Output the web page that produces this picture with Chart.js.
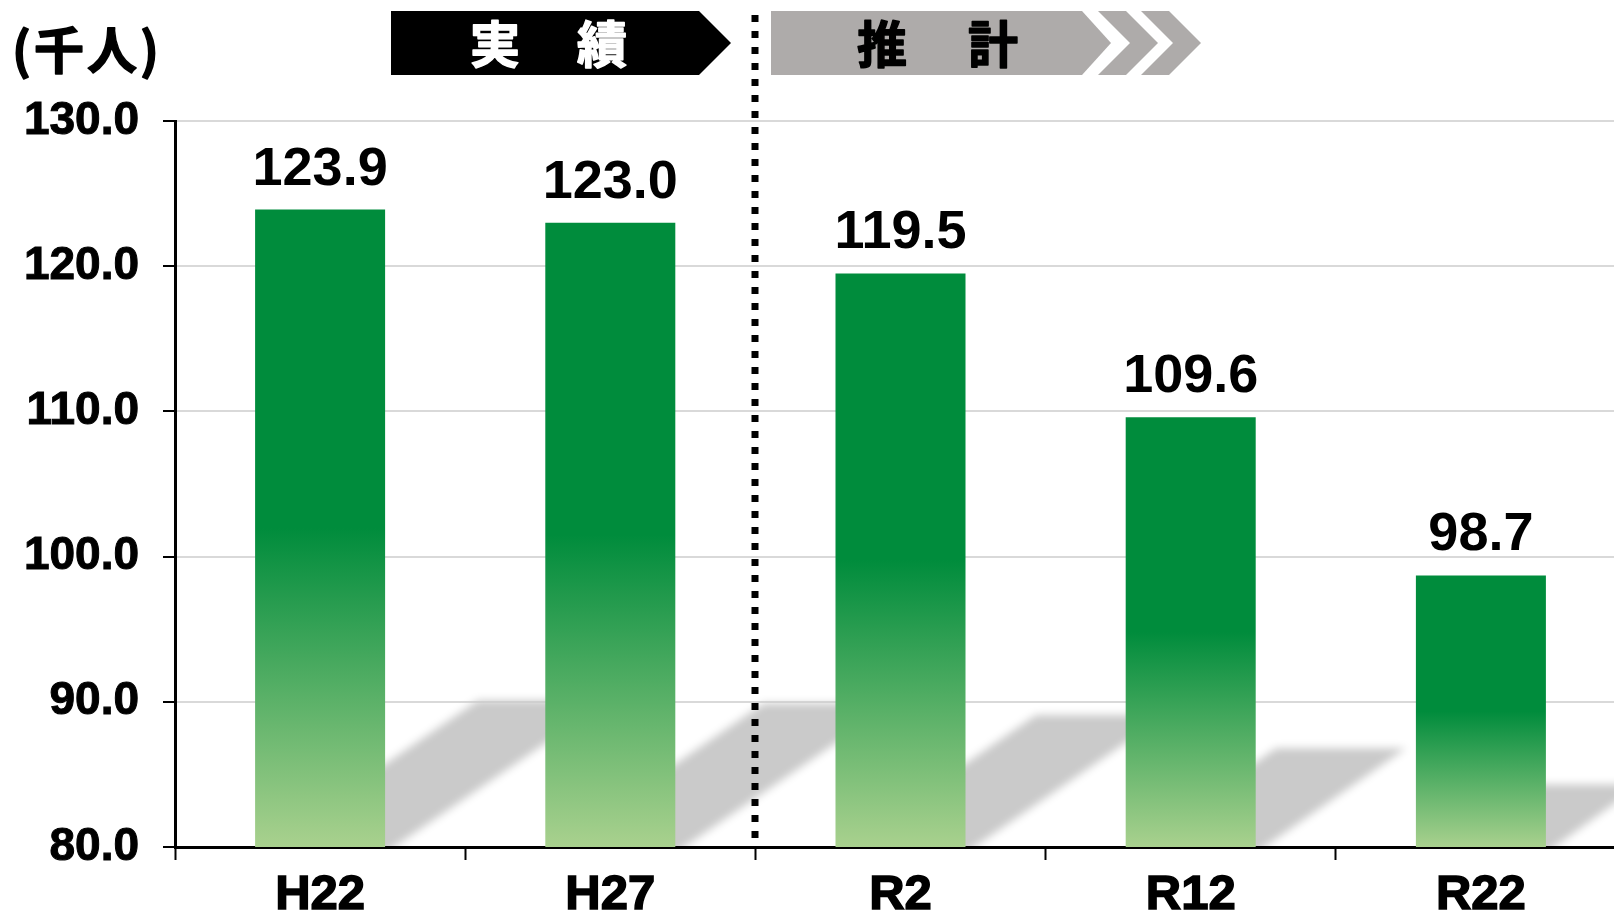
<!DOCTYPE html>
<html lang="ja">
<head>
<meta charset="utf-8">
<title>人口推移</title>
<script src="https://cdn.jsdelivr.net/npm/chart.js@4.4.1/dist/chart.umd.min.js"></script>
<style>
  html, body { margin: 0; padding: 0; background: #fff; overflow: hidden; }
  #wrap { width: 1640px; height: 922px; }
</style>
</head>
<body>
<div id="wrap"><canvas id="myChart" width="1640" height="922"></canvas></div>
<script>
const categories = ['H22', 'H27', 'R2', 'R12', 'R22'];
const population = [123.9, 123.0, 119.5, 109.6, 98.7];
const yTicks = [80, 90, 100, 110, 120, 130];
const unitLabel = '(千人)';
const actualLabel = ['実', '績'];
const estimateLabel = ['推', '計'];

const dark = '#008c3c';
const light = '#a9d18e';

function barFill(c) {
  const chart = c.chart;
  if (!chart.chartArea || c.type !== 'data') return dark;
  const y = chart.scales.y;
  const top = y.getPixelForValue(c.raw);
  const base = y.getPixelForValue(y.min);
  const g = chart.ctx.createLinearGradient(0, top, 0, base);
  g.addColorStop(0, dark);
  g.addColorStop(0.5, dark);
  g.addColorStop(1, light);
  return g;
}

// gray cast shadow behind each bar (drawn off-canvas, only its blurred shadow lands)
const shadowPlugin = {
  id: 'shadow',
  beforeDatasetsDraw(chart) {
    const ctx = chart.ctx;
    const area = chart.chartArea;
    const meta = chart.getDatasetMeta(0);
    const yScale = chart.scales.y;
    const base = yScale.getPixelForValue(yScale.min);
    const off = 4000;
    ctx.save();
    ctx.beginPath();
    ctx.rect(area.left + 2, 0, chart.width, base - 1);
    ctx.clip();
    ctx.fillStyle = '#cacaca';
    ctx.shadowColor = '#cacaca';
    ctx.shadowBlur = 9;
    ctx.shadowOffsetX = off;
    ctx.shadowOffsetY = 0;
    meta.data.forEach((b, i) => {
      const p = b.getProps(['x', 'y', 'width'], true);
      const h = base - p.y;
      const hs = h * 0.23;
      const dx = hs * 1.52;
      const l = p.x - p.width / 2 - off, r = p.x + p.width / 2 - off;
      ctx.beginPath();
      ctx.moveTo(l, base + 6);
      ctx.lineTo(r, base + 6);
      ctx.lineTo(r + dx, base - hs);
      ctx.lineTo(l + dx, base - hs);
      ctx.closePath();
      ctx.fill();
    });
    ctx.restore();
  }
};

const labelPlugin = {
  id: 'valueLabels',
  afterDatasetsDraw(chart) {
    const ctx = chart.ctx;
    const bars = chart.getDatasetMeta(0).data;
    ctx.save();
    ctx.font = 'bold 54px "Liberation Sans", Arial, sans-serif';
    ctx.fillStyle = '#000';
    ctx.textAlign = 'center';
    ctx.textBaseline = 'alphabetic';
    bars.forEach((b, i) => {
      ctx.fillText(population[i].toFixed(1), b.x, b.y - 25);
    });
    ctx.restore();
  }
};

const headerPlugin = {
  id: 'header',
  afterDraw(chart) {
    const ctx = chart.ctx;
    const x = chart.scales.x;
    const divX = Math.round((x.getPixelForValue(1) + x.getPixelForValue(2)) / 2);
    ctx.save();

    // dotted divider
    ctx.strokeStyle = '#000';
    ctx.lineWidth = 7;
    ctx.setLineDash([7, 9]);
    ctx.beginPath();
    ctx.moveTo(divX, 15);
    ctx.lineTo(divX, 838);
    ctx.stroke();
    ctx.setLineDash([]);

    const top = 11, bot = 75, mid = 43;
    // black arrow box
    ctx.fillStyle = '#000';
    ctx.beginPath();
    ctx.moveTo(divX - 364, top);
    ctx.lineTo(divX - 56, top);
    ctx.lineTo(divX - 24, mid);
    ctx.lineTo(divX - 56, bot);
    ctx.lineTo(divX - 364, bot);
    ctx.closePath();
    ctx.fill();

    // gray arrow box + chevrons
    ctx.fillStyle = '#aeabaa';
    ctx.beginPath();
    ctx.moveTo(divX + 16, top);
    ctx.lineTo(divX + 327, top);
    ctx.lineTo(divX + 356, mid);
    ctx.lineTo(divX + 327, bot);
    ctx.lineTo(divX + 16, bot);
    ctx.closePath();
    ctx.fill();
    [343, 386].forEach(o => {
      ctx.beginPath();
      ctx.moveTo(divX + o, top);
      ctx.lineTo(divX + o + 28, top);
      ctx.lineTo(divX + o + 60, mid);
      ctx.lineTo(divX + o + 28, bot);
      ctx.lineTo(divX + o, bot);
      ctx.lineTo(divX + o + 32, mid);
      ctx.closePath();
      ctx.fill();
    });

    ctx.font = 'bold 50px "Noto Sans CJK JP", sans-serif';
    ctx.textAlign = 'center';
    ctx.textBaseline = 'middle';
    ctx.lineJoin = 'round';
    ctx.lineWidth = 1.5;
    ctx.fillStyle = '#fff';
    ctx.strokeStyle = '#fff';
    [[actualLabel[0], divX - 260], [actualLabel[1], divX - 153]].forEach(([t, cx]) => {
      ctx.fillText(t, cx, mid + 1);
      ctx.strokeText(t, cx, mid + 1);
    });
    ctx.fillStyle = '#000';
    ctx.strokeStyle = '#000';
    [[estimateLabel[0], divX + 127], [estimateLabel[1], divX + 238]].forEach(([t, cx]) => {
      ctx.fillText(t, cx, mid + 1);
      ctx.strokeText(t, cx, mid + 1);
    });

    // unit
    ctx.font = 'bold 50px "Noto Sans CJK JP", sans-serif';
    ctx.textAlign = 'left';
    ctx.letterSpacing = '3px';
    ctx.fillText(unitLabel, 12, 50);
    ctx.strokeText(unitLabel, 12, 50);
    ctx.restore();
  }
};

const ctx = document.getElementById('myChart');

new Chart(ctx, {
  type: 'bar',
  data: {
    labels: categories,
    datasets: [{
      data: population,
      backgroundColor: barFill,
      borderWidth: 0,
      categoryPercentage: 1,
      barPercentage: 0.448
    }]
  },
  options: {
    responsive: false,
    animation: false,
    layout: { padding: { top: 121, right: 14, left: 0, bottom: 0 } },
    plugins: {
      legend: { display: false },
      tooltip: { enabled: false }
    },
    scales: {
      x: {
        afterFit(s) { s.height = 75; },
        grid: {
          drawOnChartArea: false,
          tickLength: 13,
          tickColor: '#000',
          tickWidth: 2,
          offset: true
        },
        border: { color: '#000', width: 3 },
        ticks: {
          color: '#000',
          padding: 6,
          font: { family: '"Liberation Sans", Arial, sans-serif', size: 49, weight: 'bold' },
          textStrokeColor: '#000',
          textStrokeWidth: 1.5
        }
      },
      y: {
        min: yTicks[0],
        max: yTicks[yTicks.length - 1],
        afterFit(s) { s.width = 175; },
        afterBuildTicks(s) { s.ticks = yTicks.map(v => ({ value: v })); },
        grid: {
          color: '#d9d9d9',
          lineWidth: 2,
          tickLength: 12,
          tickColor: '#000',
          tickWidth: 2
        },
        border: { color: '#000', width: 3 },
        ticks: {
          color: '#000',
          padding: 24,
          callback: v => v.toFixed(1),
          font: { family: '"Liberation Sans", Arial, sans-serif', size: 46, weight: 'bold' },
          textStrokeColor: '#000',
          textStrokeWidth: 1
        }
      }
    }
  },
  plugins: [shadowPlugin, labelPlugin, headerPlugin]
});
</script>
</body>
</html>
